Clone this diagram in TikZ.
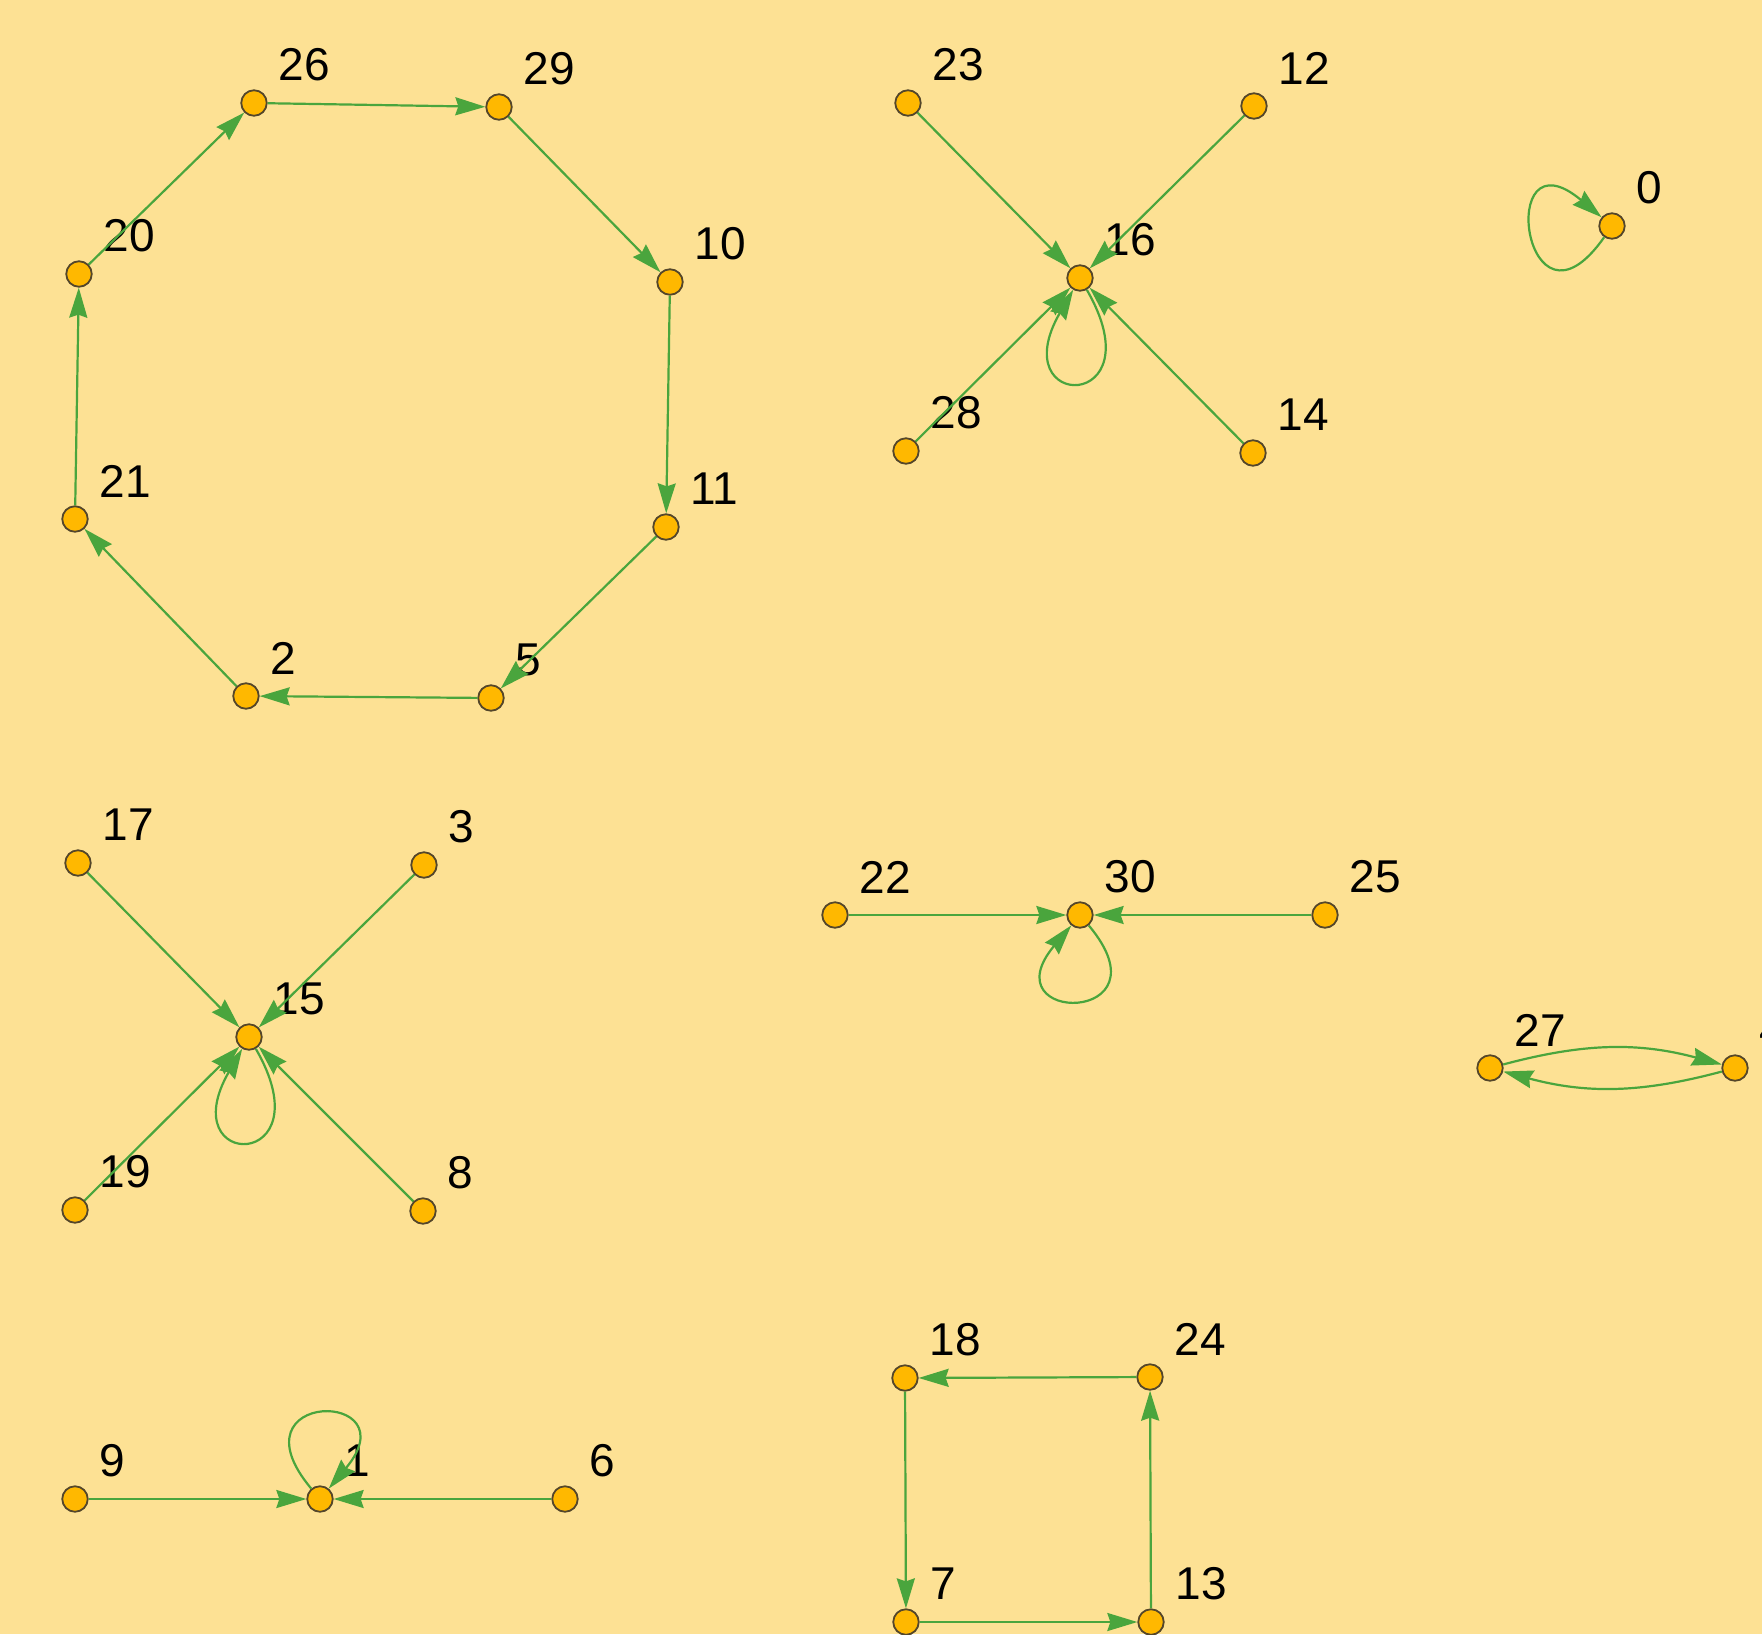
\documentclass[tikz,border=0pt]{standalone}
\usepackage{fontspec}
\setmainfont{Liberation Sans}
\usetikzlibrary{arrows.meta}
\definecolor{bgcol}{HTML}{FDE194}
\definecolor{dotfill}{HTML}{FFB800}
\definecolor{dotline}{HTML}{54462A}
\definecolor{linkcol}{HTML}{4AA53D}

\begin{document}
\begin{tikzpicture}[x=1pt,y=1pt,>={Stealth[length=30pt,width=18pt,inset=3pt]}]
  \tikzstyle{num}=[inner sep=0pt,xshift=10.6pt,yshift=38pt,font=\fontsize{46}{50}\selectfont]
  \tikzstyle{vert}=[circle,draw=dotline,fill=dotfill,line width=1.8pt,minimum size=25.5pt,inner sep=0pt,label={[num]right:#1}]
  \tikzstyle{link}=[draw=linkcol,line width=2.2pt,->]
  \useasboundingbox (0,0) rectangle (1762,-1634);
  \fill[bgcol] (0,0) rectangle (1762,-1634);
  \clip (0,0) rectangle (1762,-1634);
  % ring of eight
  \node[vert=26] (n26) at (254,-103) {};
  \node[vert=29] (n29) at (499,-107) {};
  \node[vert=10] (n10) at (670,-282) {};
  \node[vert=11] (n11) at (666,-527) {};
  \node[vert=5] (n5) at (491,-698) {};
  \node[vert=2] (n2) at (246,-696) {};
  \node[vert=21] (n21) at (75,-519) {};
  \node[vert=20] (n20) at (79,-274) {};
  \draw[link] (n26) -- (n29);
  \draw[link] (n29) -- (n10);
  \draw[link] (n10) -- (n11);
  \draw[link] (n11) -- (n5);
  \draw[link] (n5) -- (n2);
  \draw[link] (n2) -- (n21);
  \draw[link] (n21) -- (n20);
  \draw[link] (n20) -- (n26);
  % star round 16
  \node[vert=23] (n23) at (908,-103) {};
  \node[vert=12] (n12) at (1254,-106) {};
  \node[vert=16] (n16) at (1080,-278) {};
  \node[vert=28] (n28) at (906,-451) {};
  \node[vert=14] (n14) at (1253,-453) {};
  \draw[link] (n23) -- (n16);
  \draw[link] (n12) -- (n16);
  \draw[link] (n28) -- (n16);
  \draw[link] (n14) -- (n16);
  \draw[link] (n16.-60) .. controls +(-60:142) and +(-120:142) .. (n16.-120);
  % lone node
  \node[vert=0] (n0) at (1612,-226) {};
  \draw[link] (n0.-125) .. controls +(-125:140) and +(140:140) .. (n0.140);
  % star round 15
  \node[vert=17] (n17) at (78,-863) {};
  \node[vert=3] (n3) at (424,-865) {};
  \node[vert=15] (n15) at (249,-1037) {};
  \node[vert=19] (n19) at (75,-1210) {};
  \node[vert=8] (n8) at (423,-1211) {};
  \draw[link] (n17) -- (n15);
  \draw[link] (n3) -- (n15);
  \draw[link] (n19) -- (n15);
  \draw[link] (n8) -- (n15);
  \draw[link] (n15.-60) .. controls +(-60:142) and +(-120:142) .. (n15.-120);
  % 22 - 30 - 25
  \node[vert=22] (n22) at (835,-915) {};
  \node[vert=30] (n30) at (1080,-915) {};
  \node[vert=25] (n25) at (1325,-915) {};
  \draw[link] (n22) -- (n30);
  \draw[link] (n25) -- (n30);
  \draw[link] (n30.-50) .. controls +(-50:130) and +(-130:130) .. (n30.-130);
  % pair
  \node[vert=27] (n27) at (1490,-1068) {};
  \node[vert=4] (n4) at (1735,-1068) {};
  \draw[link] (n27) to[bend left=15] (n4);
  \draw[link] (n4) to[bend left=15] (n27);
  % square
  \node[vert=18] (n18) at (905,-1378) {};
  \node[vert=24] (n24) at (1150,-1377) {};
  \node[vert=7] (n7) at (906,-1622) {};
  \node[vert=13] (n13) at (1151,-1622) {};
  \draw[link] (n24) -- (n18);
  \draw[link] (n18) -- (n7);
  \draw[link] (n7) -- (n13);
  \draw[link] (n13) -- (n24);
  % 9 - 1 - 6
  \node[vert=9] (n9) at (75,-1499) {};
  \node[vert=1] (n1) at (320,-1499) {};
  \node[vert=6] (n6) at (565,-1499) {};
  \draw[link] (n9) -- (n1);
  \draw[link] (n6) -- (n1);
  \draw[link] (n1.130) .. controls +(130:130) and +(50:130) .. (n1.50);
\end{tikzpicture}
\end{document}
